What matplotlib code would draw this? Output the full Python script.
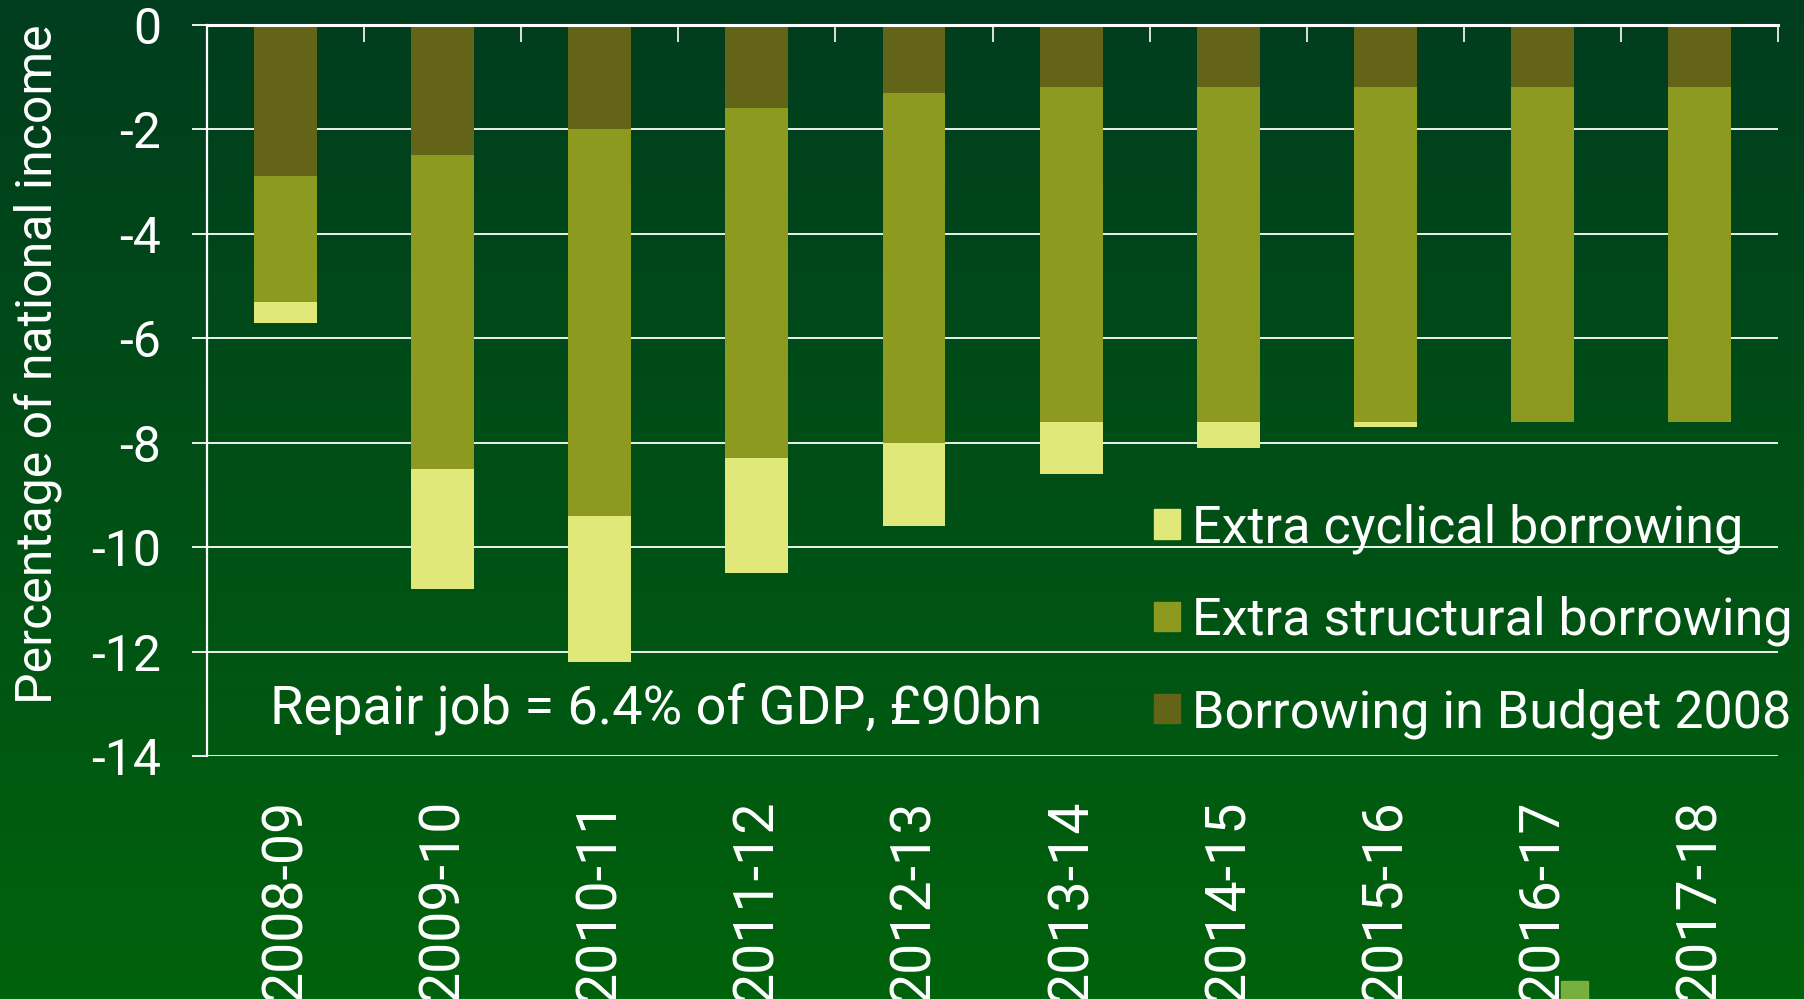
import matplotlib
matplotlib.use("Agg")
import matplotlib.pyplot as plt
import numpy as np
from matplotlib.patches import Patch, Rectangle
from matplotlib.colors import LinearSegmentedColormap

years = ["2008-09", "2009-10", "2010-11", "2011-12", "2012-13",
         "2013-14", "2014-15", "2015-16", "2016-17", "2017-18"]
budget_2008 = [-2.9, -2.5, -2.0, -1.6, -1.3, -1.2, -1.2, -1.2, -1.2, -1.2]
extra_structural = [-2.4, -6.0, -7.4, -6.7, -6.7, -6.4, -6.4, -6.4, -6.4, -6.4]
extra_cyclical = [-0.4, -2.3, -2.8, -2.2, -1.6, -1.0, -0.5, -0.1, 0.0, 0.0]
y_ticks = [0, -2, -4, -6, -8, -10, -12, -14]

c_budget = "#636418"
c_struct = "#8c9a1f"
c_cycl = "#e0e87a"

plt.rcParams["font.family"] = ["Roboto", "DejaVu Sans"]

fig = plt.figure(figsize=(18.04, 9.99), dpi=100)

# dark-to-light green background
bg = fig.add_axes([0, 0, 1, 1], zorder=-10)
grad = np.linspace(0, 1, 256).reshape(-1, 1)
bg.imshow(grad, aspect="auto", extent=[0, 1, 0, 1],
          cmap=LinearSegmentedColormap.from_list("bg", ["#003d1f", "#00620c"]))
bg.axis("off")

ax = fig.add_axes([0.1147, 0.2432, 0.871, 0.732])
ax.patch.set_alpha(0)

x = np.arange(len(years))
b = np.array(budget_2008)
s = np.array(extra_structural)
c = np.array(extra_cyclical)
w = 0.4
ax.bar(x, b, w, color=c_budget, zorder=3)
ax.bar(x, s, w, bottom=b, color=c_struct, zorder=3)
ax.bar(x, c, w, bottom=b + s, color=c_cycl, zorder=3)

ax.set_xlim(-0.5, len(years) - 0.5)
ax.set_ylim(-14, 0)
ax.set_yticks(y_ticks)
ax.set_yticklabels([str(v) for v in y_ticks], fontsize=36, color="white")
ax.yaxis.grid(True, color="white", lw=1.3, zorder=1)
ax.tick_params(axis="y", length=11, width=1.3, color="white", pad=22)

ax.set_xticks(x)
ax.set_xticklabels(years, rotation=90, fontsize=40, color="white", va="top")
ax.tick_params(axis="x", length=0, pad=31)
# boundary ticks hanging from the zero line
ax.set_xticks(np.arange(len(years)) + 0.5, minor=True)
ax.tick_params(axis="x", which="minor", direction="in", top=True, bottom=False,
               length=12, width=1.2, color="white")

for side in ["right", "bottom"]:
    ax.spines[side].set_visible(False)
ax.spines["left"].set_color("white")
ax.spines["left"].set_linewidth(1.6)
ax.spines["top"].set_color("white")
ax.spines["top"].set_linewidth(2.2)
ax.spines["top"].set_zorder(4)

fig.text(38 / 1804, 1 - 364 / 999, "Percentage of national income", fontsize=36,
         color="white", rotation=90, ha="center", va="center")

ax.text(-0.1, -13.1, "Repair job = 6.4% of GDP, \u00a390bn", fontsize=39,
        color="white", va="center", ha="left")

handles = [Patch(color=c_cycl, label="Extra cyclical borrowing"),
           Patch(color=c_struct, label="Extra structural borrowing"),
           Patch(color=c_budget, label="Borrowing in Budget 2008")]
leg = ax.legend(handles=handles, loc="upper left", bbox_to_anchor=(0.603, 0.345),
                frameon=False, fontsize=37.5, labelcolor="white",
                borderpad=0, borderaxespad=0,
                handlelength=0.5, handleheight=0.5, handletextpad=0.22,
                labelspacing=0.8)

# small light-green block at the bottom edge
fig.patches.append(Rectangle((1561 / 1804, 0), 27 / 1804, 18 / 999,
                             transform=fig.transFigure, color="#78b040"))

fig.savefig("out.png", dpi=100)
